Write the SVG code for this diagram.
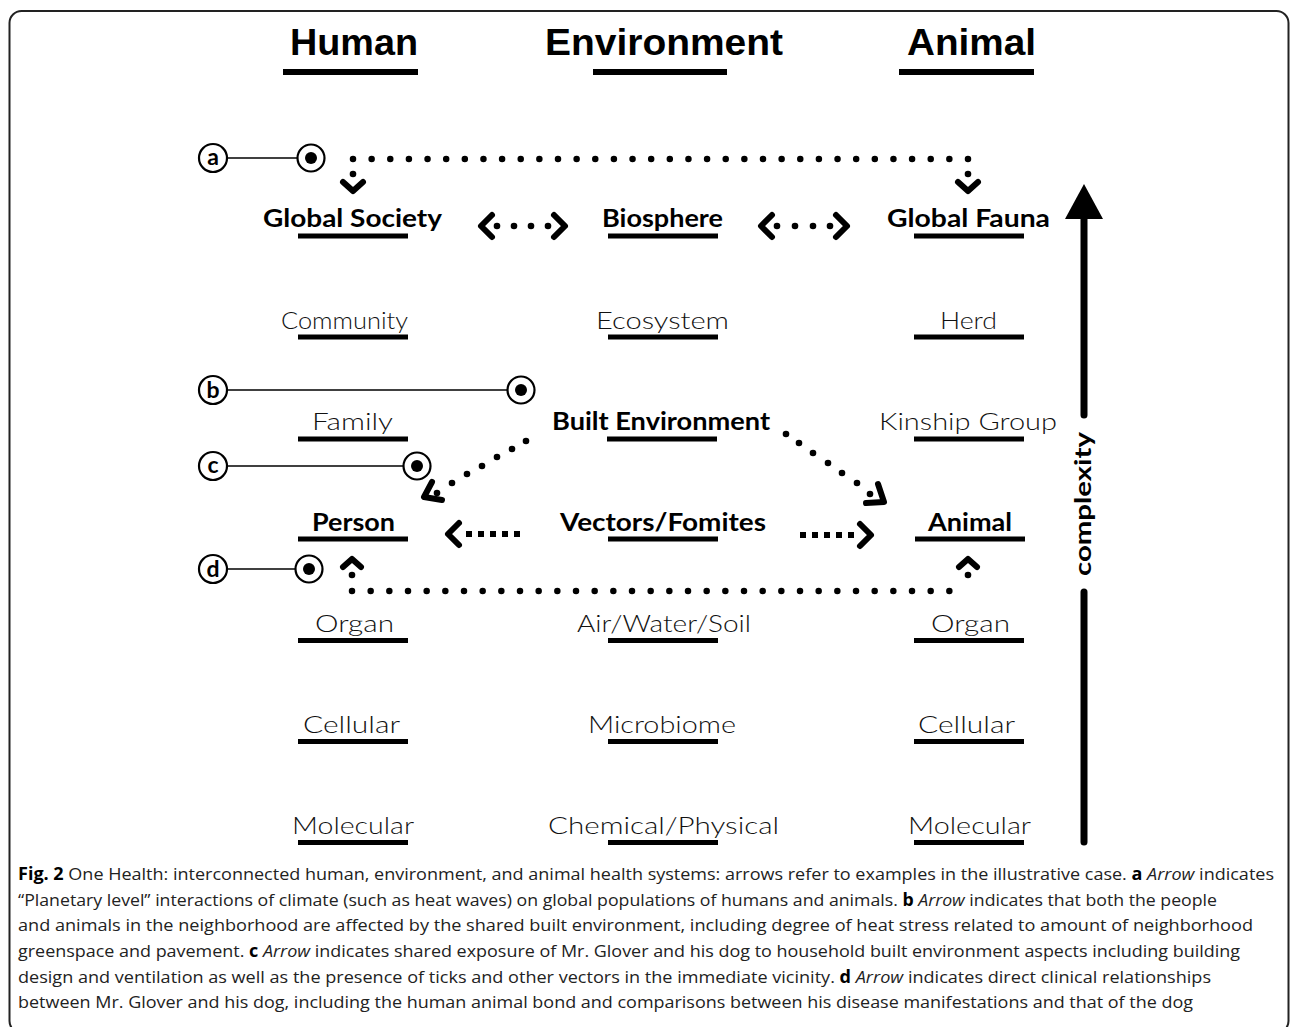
<svg xmlns="http://www.w3.org/2000/svg" width="1292" height="1027" viewBox="0 0 1292 1027">
<style>
.hdr{font-family:"Liberation Sans","DejaVu Sans",sans-serif;font-weight:bold;font-size:36px;fill:#000}
.lt{font-family:"Lato","DejaVu Sans",sans-serif;font-weight:300;font-size:24px;fill:#111}
.bd{font-family:"Lato","DejaVu Sans",sans-serif;font-weight:bold;font-size:24px;fill:#000}
.cx{font-family:"Lato","DejaVu Sans",sans-serif;font-weight:bold;font-size:22px;fill:#000}
.cap{font-family:"Open Sans","Liberation Sans",sans-serif;font-size:17px;fill:#222}
.cap .b{font-weight:bold;fill:#000}
.cap .i{font-style:italic}
.ul{fill:#000}
.chev{fill:none;stroke:#000;stroke-width:6;stroke-linecap:round;stroke-linejoin:round}
.dots{fill:none;stroke:#000;stroke-width:6.5;stroke-linecap:round}
.sq{fill:none;stroke:#000;stroke-width:6;stroke-linecap:butt}
.ring{fill:#fff;stroke:#000;stroke-width:2.2}
.thin{stroke:#000;stroke-width:1.6}
.lbl{font-family:"Lato","DejaVu Sans",sans-serif;font-weight:bold;font-size:23px;fill:#000;text-anchor:middle}
</style>
<defs>
<g id="target"><circle r="13.5" class="ring"/><circle r="6" fill="#000"/></g>
</defs>
<rect x="9.5" y="11" width="1279" height="1022" rx="12" fill="#fff" stroke="#222" stroke-width="2"/>

<g id="headers">
<text class="hdr" x="290" y="55" textLength="128" lengthAdjust="spacingAndGlyphs">Human</text>
<rect class="ul" x="283" y="69" width="135" height="6"/>
<text class="hdr" x="545" y="55" textLength="238" lengthAdjust="spacingAndGlyphs">Environment</text>
<rect class="ul" x="593" y="69" width="134" height="6"/>
<text class="hdr" x="907" y="55" textLength="129" lengthAdjust="spacingAndGlyphs">Animal</text>
<rect class="ul" x="899" y="69" width="135" height="6"/>
</g>

<g id="row1">
<g id="global-society"><text class="bd" x="263" y="227" textLength="179" lengthAdjust="spacingAndGlyphs">Global Society</text><rect class="ul" x="298" y="233.5" width="110" height="5"/></g>
<g id="biosphere"><text class="bd" x="602" y="227" textLength="121" lengthAdjust="spacingAndGlyphs">Biosphere</text><rect class="ul" x="608" y="233.5" width="110" height="5"/></g>
<g id="global-fauna"><text class="bd" x="887" y="227" textLength="163" lengthAdjust="spacingAndGlyphs">Global Fauna</text><rect class="ul" x="914" y="233.5" width="110" height="5"/></g>
</g>

<g id="row2">
<g id="community"><text class="lt" x="281" y="328.5" textLength="127" lengthAdjust="spacingAndGlyphs">Community</text><rect class="ul" x="298" y="334.5" width="110" height="5"/></g>
<g id="ecosystem"><text class="lt" x="596" y="328.5" textLength="133" lengthAdjust="spacingAndGlyphs">Ecosystem</text><rect class="ul" x="608" y="334.5" width="110" height="5"/></g>
<g id="herd"><text class="lt" x="940" y="328.5" textLength="57" lengthAdjust="spacingAndGlyphs">Herd</text><rect class="ul" x="914" y="334.5" width="110" height="5"/></g>
</g>

<g id="row3">
<g id="family"><text class="lt" x="312" y="430" textLength="81" lengthAdjust="spacingAndGlyphs">Family</text><rect class="ul" x="298" y="436.5" width="110" height="5"/></g>
<g id="built-environment"><text class="bd" x="552" y="430" textLength="218" lengthAdjust="spacingAndGlyphs">Built Environment</text><rect class="ul" x="607" y="436.5" width="110" height="5"/></g>
<g id="kinship-group"><text class="lt" x="879" y="430" textLength="178" lengthAdjust="spacingAndGlyphs">Kinship Group</text><rect class="ul" x="914" y="436.5" width="110" height="5"/></g>
</g>

<g id="row4">
<g id="person"><text class="bd" x="312" y="530.5" textLength="83" lengthAdjust="spacingAndGlyphs">Person</text><rect class="ul" x="298" y="536.5" width="110" height="5"/></g>
<g id="vectors-fomites"><text class="bd" x="560" y="530.5" textLength="206" lengthAdjust="spacingAndGlyphs">Vectors/Fomites</text><rect class="ul" x="608" y="536.5" width="110" height="5"/></g>
<g id="animal"><text class="bd" x="928" y="530.5" textLength="84" lengthAdjust="spacingAndGlyphs">Animal</text><rect class="ul" x="915" y="536.5" width="110" height="5"/></g>
</g>

<g id="row5">
<g id="organ-h"><text class="lt" x="315" y="632" textLength="79" lengthAdjust="spacingAndGlyphs">Organ</text><rect class="ul" x="298" y="638" width="110" height="5"/></g>
<g id="air-water-soil"><text class="lt" x="577" y="632" textLength="174" lengthAdjust="spacingAndGlyphs">Air/Water/Soil</text><rect class="ul" x="608" y="638" width="110" height="5"/></g>
<g id="organ-a"><text class="lt" x="931" y="632" textLength="79" lengthAdjust="spacingAndGlyphs">Organ</text><rect class="ul" x="914" y="638" width="110" height="5"/></g>
</g>

<g id="row6">
<g id="cellular-h"><text class="lt" x="303" y="733" textLength="97" lengthAdjust="spacingAndGlyphs">Cellular</text><rect class="ul" x="298" y="739" width="110" height="5"/></g>
<g id="microbiome"><text class="lt" x="588" y="733" textLength="148" lengthAdjust="spacingAndGlyphs">Microbiome</text><rect class="ul" x="608" y="739" width="110" height="5"/></g>
<g id="cellular-a"><text class="lt" x="918" y="733" textLength="97" lengthAdjust="spacingAndGlyphs">Cellular</text><rect class="ul" x="914" y="739" width="110" height="5"/></g>
</g>

<g id="row7">
<g id="molecular-h"><text class="lt" x="292" y="834" textLength="122" lengthAdjust="spacingAndGlyphs">Molecular</text><rect class="ul" x="298" y="840" width="110" height="5"/></g>
<g id="chemical-physical"><text class="lt" x="548" y="834" textLength="231" lengthAdjust="spacingAndGlyphs">Chemical/Physical</text><rect class="ul" x="608" y="840" width="110" height="5"/></g>
<g id="molecular-a"><text class="lt" x="908" y="834" textLength="123" lengthAdjust="spacingAndGlyphs">Molecular</text><rect class="ul" x="914" y="840" width="110" height="5"/></g>
</g>

<g id="markers">
<g id="marker-a"><circle cx="213" cy="158" r="14" class="ring"/><text class="lbl" x="213" y="165">a</text><line class="thin" x1="227" y1="158" x2="297" y2="158"/><use href="#target" x="311" y="158"/></g>
<g id="marker-b"><circle cx="213" cy="390" r="14" class="ring"/><text class="lbl" x="213" y="398">b</text><line class="thin" x1="227" y1="390" x2="507" y2="390"/><use href="#target" x="521" y="390"/></g>
<g id="marker-c"><circle cx="213" cy="466" r="14" class="ring"/><text class="lbl" x="213" y="473">c</text><line class="thin" x1="227" y1="466" x2="403" y2="466"/><use href="#target" x="417" y="466"/></g>
<g id="marker-d"><circle cx="213" cy="569" r="14" class="ring"/><text class="lbl" x="213" y="577">d</text><line class="thin" x1="227" y1="569" x2="295" y2="569"/><use href="#target" x="309" y="569"/></g>
</g>

<g id="connectors">
<line class="dots" x1="353" y1="159" x2="968" y2="159" stroke-dasharray="0 18.636"/>
<circle cx="353" cy="174" r="3.3"/><polyline class="chev" points="343,182 353,191 363,182"/>
<circle cx="968" cy="174" r="3.3"/><polyline class="chev" points="958,182 968,191 978,182"/>
<polyline class="chev" points="492,215 481,226 492,237"/>
<circle cx="497" cy="226" r="3.3"/><circle cx="514" cy="226" r="3.3"/><circle cx="531" cy="226" r="3.3"/><circle cx="548" cy="226" r="3.3"/>
<polyline class="chev" points="554,215 565,226 554,237"/>
<polyline class="chev" points="772,215 761,226 772,237"/>
<circle cx="777" cy="226" r="3.3"/><circle cx="795" cy="226" r="3.3"/><circle cx="813" cy="226" r="3.3"/><circle cx="830" cy="226" r="3.3"/>
<polyline class="chev" points="836,215 847,226 836,237"/>
<circle cx="526" cy="441" r="3.3"/><circle cx="512" cy="449" r="3.3"/><circle cx="497" cy="457" r="3.3"/><circle cx="482" cy="466" r="3.3"/><circle cx="467" cy="474" r="3.3"/><circle cx="452" cy="483" r="3.3"/><circle cx="437" cy="493" r="3.3"/>
<polyline class="chev" points="432,482 424,497 442,500"/>
<circle cx="786" cy="434" r="3.3"/><circle cx="799" cy="443" r="3.3"/><circle cx="813" cy="453" r="3.3"/><circle cx="828" cy="463" r="3.3"/><circle cx="842" cy="473" r="3.3"/><circle cx="857" cy="483" r="3.3"/><circle cx="870" cy="494" r="3.3"/>
<polyline class="chev" points="878,484 884,502 866,503"/>
<polyline class="chev" points="459,523 448,534 459,545"/>
<line class="sq" x1="466" y1="534" x2="520" y2="534" stroke-dasharray="6 6"/>
<line class="sq" x1="800" y1="535" x2="854" y2="535" stroke-dasharray="6 6"/>
<polyline class="chev" points="860,524 871,535 860,546"/>
<line class="dots" x1="352" y1="591" x2="968" y2="591" stroke-dasharray="0 18.667"/>
<circle cx="352" cy="575" r="3.3"/><polyline class="chev" points="343,567 352,559 361,567"/>
<circle cx="968" cy="575" r="3.3"/><polyline class="chev" points="959,567 968,559 977,567"/>
</g>

<g id="complexity">
<polygon points="1084,184 1065,219 1103,219" fill="#000"/>
<line x1="1084" y1="215" x2="1084" y2="415" stroke="#000" stroke-width="7" stroke-linecap="round"/>
<line x1="1084" y1="592" x2="1084" y2="842" stroke="#000" stroke-width="7" stroke-linecap="round"/>
<text class="cx" transform="translate(1091,504) rotate(-90)" text-anchor="middle" textLength="144" lengthAdjust="spacingAndGlyphs">complexity</text>
</g>

<g id="caption" class="cap">
<text x="18" y="880" textLength="1256" lengthAdjust="spacingAndGlyphs"><tspan class="b">Fig. 2</tspan> One Health: interconnected human, environment, and animal health systems: arrows refer to examples in the illustrative case. <tspan class="b">a</tspan> <tspan class="i">Arrow</tspan> indicates</text>
<text x="18" y="906" textLength="1199" lengthAdjust="spacingAndGlyphs">“Planetary level” interactions of climate (such as heat waves) on global populations of humans and animals. <tspan class="b">b</tspan> <tspan class="i">Arrow</tspan> indicates that both the people</text>
<text x="18" y="931" textLength="1235" lengthAdjust="spacingAndGlyphs">and animals in the neighborhood are affected by the shared built environment, including degree of heat stress related to amount of neighborhood</text>
<text x="18" y="957" textLength="1222" lengthAdjust="spacingAndGlyphs">greenspace and pavement. <tspan class="b">c</tspan> <tspan class="i">Arrow</tspan> indicates shared exposure of Mr. Glover and his dog to household built environment aspects including building</text>
<text x="18" y="983" textLength="1193" lengthAdjust="spacingAndGlyphs">design and ventilation as well as the presence of ticks and other vectors in the immediate vicinity. <tspan class="b">d</tspan> <tspan class="i">Arrow</tspan> indicates direct clinical relationships</text>
<text x="18" y="1008" textLength="1175" lengthAdjust="spacingAndGlyphs">between Mr. Glover and his dog, including the human animal bond and comparisons between his disease manifestations and that of the dog</text>
</g>
</svg>
